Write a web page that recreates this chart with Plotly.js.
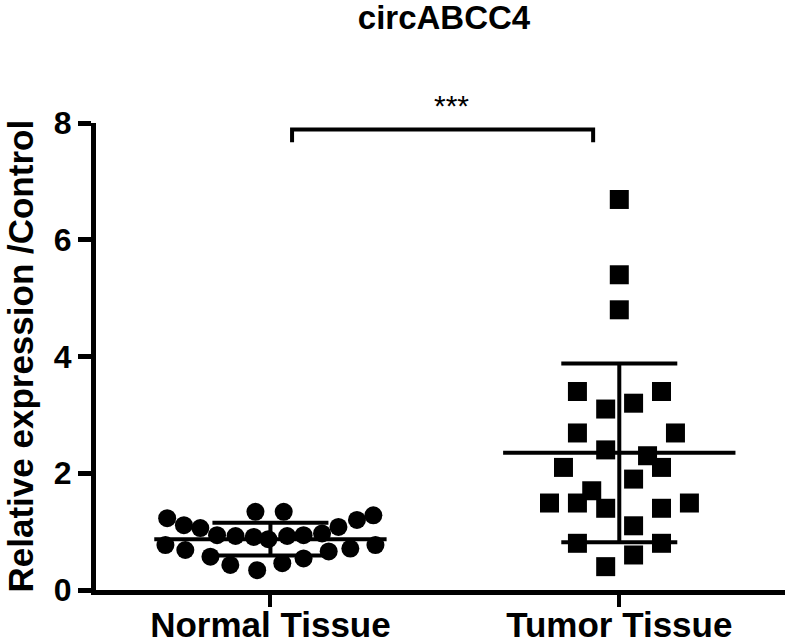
<!DOCTYPE html>
<html>
<head>
<meta charset="utf-8">
<script src="https://cdn.plot.ly/plotly-3.0.1.min.js"></script>
<style>
  html, body { margin: 0; padding: 0; background: #fff; }
  #chart { width: 800px; height: 643px; }
</style>
</head>
<body>
<div id="chart"></div>
<script>
const groups = ['Normal Tissue', 'Tumor Tissue'];

// relative expression of each sample, with its horizontal scatter offset
const normalValues = [1.23, 1.11, 1.06, 0.94, 0.925, 0.91, 0.87, 0.925, 0.94, 0.97, 1.08, 1.20, 1.28,
    1.34, 1.34, 0.77, 0.685, 0.57, 0.43, 0.34, 0.46, 0.54, 0.66, 0.71, 0.77];
const normalOffset = [-0.296, -0.248, -0.201, -0.153, -0.100, -0.048, -0.006, 0.048, 0.095, 0.148, 0.195, 0.248, 0.295,
    -0.043, 0.038, -0.301, -0.244, -0.172, -0.115, -0.038, 0.034, 0.095, 0.167, 0.229, 0.301];

const tumorValues = [6.69, 5.40, 4.80, 3.40, 3.40, 3.10, 3.20, 2.69, 2.69, 2.40, 2.30, 2.10, 2.10,
    1.90, 1.70, 1.49, 1.49, 1.40, 1.40, 1.49, 1.10, 0.80, 0.80, 0.60, 0.40];
const tumorOffset = [0.0, 0.0, 0.0, -0.120, 0.121, -0.039, 0.041, -0.120, 0.161, -0.039, 0.081, -0.160, 0.121,
    0.041, -0.079, -0.200, -0.120, -0.039, 0.121, 0.201, 0.041, -0.120, 0.121, 0.041, -0.039];

// mean and SD as drawn
const means = [0.87, 2.35];
const sds = [0.28, 1.53];

const yTicks = [0, 2, 4, 6, 8];

const font = 'Liberation Sans, Arial, sans-serif';
const meanHalf = 0.333;

function meanLine(i) {
    return {
        x: [i - meanHalf, i + meanHalf],
        y: [means[i], means[i]],
        mode: 'lines',
        line: { color: '#000', width: 4 },
        hoverinfo: 'skip',
        showlegend: false
    };
}

const traces = [
    {
        x: normalOffset.map(d => 0 + d),
        y: normalValues,
        mode: 'markers',
        marker: { symbol: 'circle', size: 18, color: '#000' },
        name: groups[0],
        showlegend: false
    },
    {
        x: tumorOffset.map(d => 1 + d),
        y: tumorValues,
        mode: 'markers',
        marker: { symbol: 'square', size: 19, color: '#000' },
        name: groups[1],
        showlegend: false
    },
    meanLine(0),
    meanLine(1),
    {
        x: [0, 1],
        y: means,
        mode: 'markers',
        marker: { size: 1, color: 'rgba(0,0,0,0)' },
        error_y: { type: 'data', array: sds, visible: true, color: '#000', thickness: 4, width: 58 },
        hoverinfo: 'skip',
        showlegend: false
    }
];

// significance bracket
const bracketX = [0.062, 0.925];
const bracketTop = 7.89;
const bracketFoot = 7.67;

const layout = {
    width: 800,
    height: 643,
    margin: { l: 96, r: 15, t: 123, b: 53 },
    paper_bgcolor: '#fff',
    plot_bgcolor: '#fff',
    showlegend: false,
    title: {
        text: 'circABCC4',
        font: { family: font, size: 33, weight: 'bold', color: '#000' },
        x: 0.555,
        xanchor: 'center',
        y: 0.973,
        yanchor: 'middle'
    },
    xaxis: {
        range: [-0.5, 1.475],
        tickvals: [0, 1],
        ticktext: groups,
        showgrid: false,
        zeroline: false,
        showline: true,
        linecolor: '#000',
        linewidth: 5,
        ticks: 'outside',
        ticklen: 12,
        tickwidth: 4,
        tickcolor: '#000',
        ticklabelstandoff: -12,
        tickfont: { family: font, size: 35, weight: 'bold', color: '#000' }
    },
    yaxis: {
        range: [0, 8],
        tickvals: yTicks,
        showgrid: false,
        zeroline: false,
        showline: true,
        linecolor: '#000',
        linewidth: 5,
        ticks: 'outside',
        ticklen: 13,
        tickwidth: 5,
        tickcolor: '#000',
        tickfont: { family: font, size: 32, weight: 'bold', color: '#000' }
    },
    shapes: [{
        type: 'path',
        xref: 'x',
        yref: 'y',
        path: `M ${bracketX[0]},${bracketFoot} L ${bracketX[0]},${bracketTop} L ${bracketX[1]},${bracketTop} L ${bracketX[1]},${bracketFoot}`,
        line: { color: '#000', width: 4 }
    }],
    annotations: [
        {
            x: 0.52,
            y: 1.077,
            xref: 'x',
            yref: 'paper',
            text: '***',
            showarrow: false,
            font: { family: font, size: 30, color: '#000' }
        },
        {
            // y-axis title, placed by hand so it can sit at the page edge
            x: -0.1103,
            y: 0.5,
            xref: 'paper',
            yref: 'paper',
            xanchor: 'center',
            yanchor: 'middle',
            textangle: -90,
            text: 'Relative expression /Control',
            showarrow: false,
            font: { family: font, size: 35, weight: 'bold', color: '#000' }
        }
    ]
};

Plotly.newPlot('chart', traces, layout, { displayModeBar: false, staticPlot: true });
</script>
</body>
</html>
